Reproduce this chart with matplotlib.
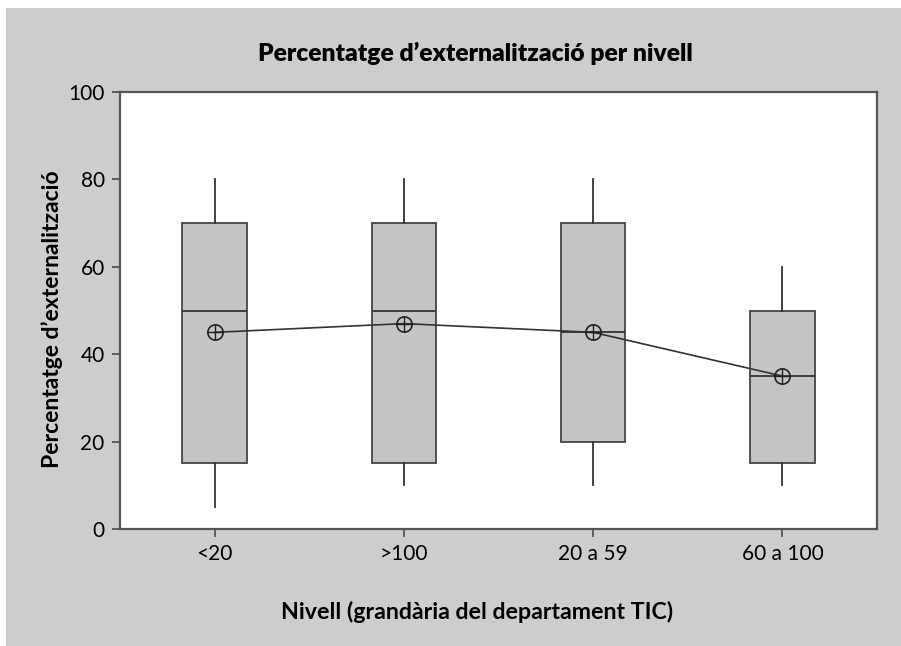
import matplotlib
matplotlib.use("Agg")
import matplotlib.pyplot as plt
from matplotlib.patches import Rectangle

# dades llegides del gràfic
nivells = ["<20", ">100", "20 a 59", "60 a 100"]
whis_lo = [5, 10, 10, 10]
q1 = [15, 15, 20, 15]
mediana = [50, 50, 45, 35]
q3 = [70, 70, 70, 50]
whis_hi = [80, 80, 80, 60]
mitjana = [45, 47, 45, 35]

plt.rcParams['font.family'] = ['Lato', 'DejaVu Sans']

fig = plt.figure(figsize=(9.01, 6.46), dpi=100)
fig.patch.set_facecolor("white")
fig.patches.append(Rectangle((6 / 901, 0), 1 - 6 / 901, 1 - 8 / 646,
                             transform=fig.transFigure, facecolor="#cdcdcd",
                             edgecolor="none", zorder=-10))

ax = fig.add_axes([120 / 901, 1 - 529 / 646, (877 - 120) / 901, (529 - 92) / 646])
ax.set_facecolor("white")

stats = []
for i in range(len(nivells)):
    stats.append({"whislo": whis_lo[i], "q1": q1[i], "med": mediana[i],
                  "q3": q3[i], "whishi": whis_hi[i], "fliers": [], "label": nivells[i]})

pos = list(range(1, len(nivells) + 1))
ax.bxp(stats, positions=pos, widths=0.34, patch_artist=True, showcaps=False,
       boxprops=dict(facecolor="#c4c4c4", edgecolor="#444444", linewidth=1.3),
       medianprops=dict(color="#333333", linewidth=1.3),
       whiskerprops=dict(color="#333333", linewidth=1.3))

ax.plot(pos, mitjana, color="#333333", linewidth=1.2, zorder=4)
ax.plot(pos, mitjana, linestyle="none", marker="o", markersize=11,
        markerfacecolor="none", markeredgecolor="#222222", markeredgewidth=1.2, zorder=5)
ax.plot(pos, mitjana, linestyle="none", marker="+", markersize=11,
        markeredgecolor="#222222", markeredgewidth=1.0, zorder=5)

ax.set_xlim(0.5, 4.5)
ax.set_ylim(0, 100)
ax.set_yticks([0, 20, 40, 60, 80, 100])
ax.set_xticks(pos)
ax.set_xticklabels(nivells)
ax.tick_params(labelsize=15, color="#555555", length=6, width=1.3, pad=5)
for s in ax.spines.values():
    s.set_color("#555555")
    s.set_linewidth(1.6)

fig.text(475 / 901, 1 - 53 / 646, "Percentatge d\u2019externalització per nivell",
         ha="center", va="center", fontsize=17.7, fontweight="heavy")
fig.text(477 / 901, 1 - 612 / 646, "Nivell (grandària del departament TIC)",
         ha="center", va="center", fontsize=16.7, fontweight="bold")
fig.text(52 / 901, 1 - 319 / 646, "Percentatge d\u2019externalització",
         ha="center", va="center", rotation=90, fontsize=16.5, fontweight="bold")

fig.savefig("out.png", dpi=100)
